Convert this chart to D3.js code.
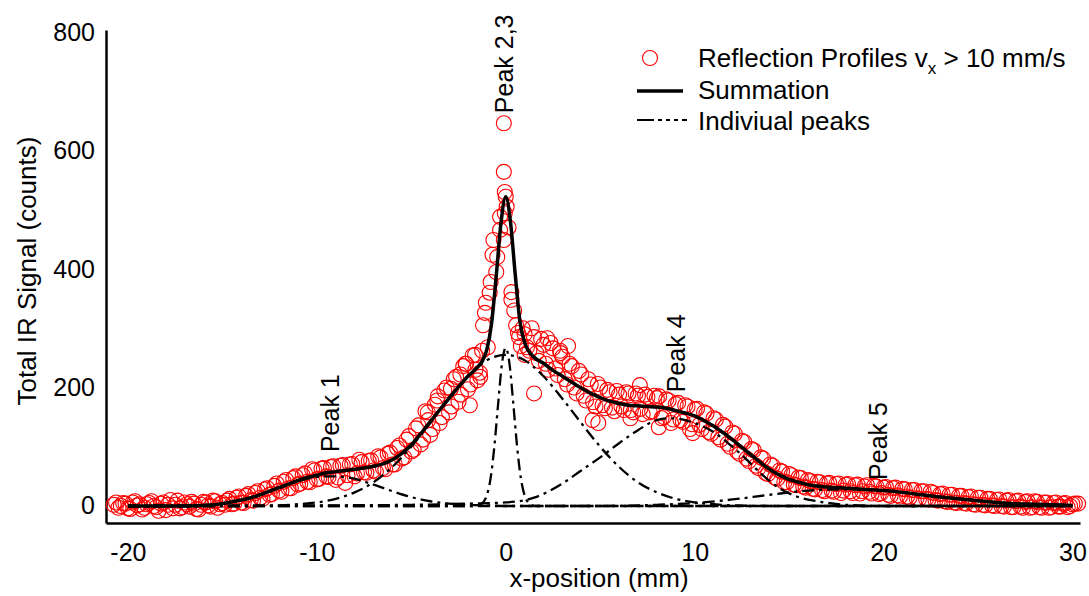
<!DOCTYPE html>
<meta charset="utf-8">
<script src="https://d3js.org/d3.v7.min.js"></script>
<style>
  body { margin: 0; background: #fff; }
  text { font-family: "Liberation Sans", Arial, sans-serif; }
</style>
<div id="my_dataviz"></div>
<script>

// measured reflection profiles (x in mm, signal in counts), two overlapping passes
var profileAX = [
  -20.75,-20.5,-20.25,-20,-19.75,-19.5,-19.25,-19,-18.75,-18.5,-18.25,-18,-17.75,-17.5,-17.25,-17,-16.75,-16.5,-16.25,-16,-15.75,-15.5,-15.25,-15,
  -14.75,-14.5,-14.25,-14,-13.75,-13.5,-13.25,-13,-12.75,-12.5,-12.25,-12,-11.75,-11.5,-11.25,-11,-10.75,-10.5,-10.25,-10,
  -9.75,-9.5,-9.25,-9,-8.75,-8.5,-8.25,-8,-7.75,-7.5,-7.25,-7,-6.75,-6.5,-6.25,-6,-5.75,-5.5,-5.25,-5,
  -4.75,-4.5,-4.25,-4,-3.75,-3.5,-3.25,-3,-2.75,-2.5,-2.25,-2,-1.75,-1.5,-1.25,
  -4.1,-3.6,-2.9,-2.4,-2.1,-1.9,-1.6,-1.35,
  -1.2,-1.1,-1.05,-0.95,-0.8,-0.7,-0.65,-0.5,-0.3,-0.3,-0.1,-0.1,-0.1,-0.05,-0.05,0,0.05,0.3,0.3,0.55,0.65,0.8,0.9,
  1,1.25,1.5,1.75,2,2.25,2.5,2.75,3,3.25,3.5,3.75,4,4.25,4.5,4.75,5,5.25,5.5,5.75,6,6.25,6.5,6.75,7,7.25,7.5,7.75,8,
  1.5,2.2,2.9,3.3,4.6,4.9,6.6,7.1,8.1,9.9,
  8.25,8.5,8.75,9,9.25,9.5,9.75,10,10.25,10.5,10.75,11,11.25,11.5,11.75,12,12.25,12.5,12.75,13,13.25,13.5,13.75,14,14.25,14.5,14.75,15,15.25,15.5,15.75,16,
  16.25,16.5,16.75,17,17.25,17.5,17.75,18,18.25,18.5,18.75,19,19.25,19.5,19.75,20,20.25,20.5,20.75,21,21.25,21.5,21.75,22,22.25,22.5,22.75,23,
  23.25,23.5,23.75,24,24.25,24.5,24.75,25,25.25,25.5,25.75,26,26.25,26.5,26.75,27,27.25,27.5,27.75,28,28.25,28.5,28.75,29,29.25,29.5,29.75,30,30.3
];
var profileAY = [
  2,-3,5,-4,6,1,-6,3,8,-2,4,-7,10,2,-4,6,-1,4,-6,7,1,9,-3,5,
  9,3,14,6,17,10,22,14,28,19,34,26,41,30,47,36,52,41,62,45,
  63,50,66,44,68,39,70,50,78,57,76,60,84,64,88,70,98,80,112,92,
  131,104,160,120,171,140,195,158,214,176,236,197,254,212,262,
  145,185,198,222,240,170,230,218,
  305,326,343,268,378,424,449,395,466,488,449,564,646,494,530,522,505,361,348,305,292,270,300,
  290,262,285,245,272,230,266,221,252,205,236,190,222,178,205,168,200,165,192,160,188,162,190,158,186,155,184,160,182,
  190,283,258,270,145,140,148,204,133,123,
  148,180,140,172,145,170,130,163,137,158,125,148,116,137,105,124,92,110,80,96,68,82,56,70,48,60,40,54,36,48,33,44,
  29,41,27,38,26,37,22,36,25,35,21,33,24,34,20,31,19,30,18,29,16,27,13,25,12,24,10,20,
  8,19,6,17,5,15,3,14,2,12,1,10,0,9,-2,8,-1,7,-3,8,-2,6,-3,5,-1,4,-2,3,4
];
var profileBX = [
  -20.625,-20.375,-20.125,-19.875,-19.625,-19.375,-19.125,-18.875,-18.625,-18.375,-18.125,-17.875,-17.625,-17.375,-17.125,-16.875,-16.625,-16.375,-16.125,-15.875,-15.625,-15.375,-15.125,
  -14.875,-14.625,-14.375,-14.125,-13.875,-13.625,-13.375,-13.125,-12.875,-12.625,-12.375,-12.125,-11.875,-11.625,-11.375,-11.125,-10.875,-10.625,-10.375,-10.125,
  -9.875,-9.625,-9.375,-9.125,-8.875,-8.625,-8.375,-8.125,-7.875,-7.625,-7.375,-7.125,-6.875,-6.625,-6.375,-6.125,-5.875,-5.625,-5.375,-5.125,
  -4.875,-4.625,-4.375,-4.125,-3.875,-3.625,-3.375,-3.125,-2.875,-2.625,-2.375,-2.125,-1.875,-1.625,-1.375,
  -0.85,-0.45,0.15,0.45,0.7,1.0,
  1.125,1.375,1.625,1.875,2.125,2.375,2.625,2.875,3.125,3.375,3.625,3.875,4.125,4.375,4.625,4.875,5.125,5.375,5.625,5.875,6.125,6.375,6.625,6.875,7.125,7.375,7.625,7.875,
  8.125,8.375,8.625,8.875,9.125,9.375,9.625,9.875,10.125,10.375,10.625,10.875,11.125,11.375,11.625,11.875,12.125,12.375,12.625,12.875,13.125,13.375,13.625,13.875,14.125,14.375,14.625,14.875,15.125,15.375,15.625,15.875,
  16.125,16.375,16.625,16.875,17.125,17.375,17.625,17.875,18.125,18.375,18.625,18.875,19.125,19.375,19.625,19.875,20.125,20.375,20.625,20.875,21.125,21.375,21.625,21.875,22.125,22.375,22.625,22.875,
  23.125,23.375,23.625,23.875,24.125,24.375,24.625,24.875,25.125,25.375,25.625,25.875,26.125,26.375,26.625,26.875,27.125,27.375,27.625,27.875,28.125,28.375,28.625,28.875,29.125,29.375,29.625,29.875,30.125
];
var profileBY = [
  6,0,4,-5,8,3,-3,5,0,-8,6,2,-4,9,-2,3,7,-5,2,6,-1,8,3,
  2,12,4,16,5,20,9,25,12,30,20,38,24,44,30,50,38,55,40,60,
  46,64,49,67,48,69,52,71,55,74,56,77,58,82,62,90,70,102,82,118,
  95,136,112,158,130,178,150,200,168,218,188,240,205,255,225,
  360,420,470,330,285,255,
  268,300,258,282,240,275,232,262,214,240,200,228,186,214,175,206,170,196,166,194,168,192,162,190,164,188,158,186,
  185,150,178,146,174,142,168,138,164,130,156,122,146,112,134,100,122,88,108,76,94,64,80,54,68,46,58,40,52,35,47,31,
  42,28,40,25,39,24,38,26,37,22,36,25,35,21,33,22,32,17,31,16,28,14,27,12,25,11,22,9,
  21,7,19,5,17,4,16,2,14,1,12,0,11,-1,10,-2,9,-3,8,-2,7,-3,6,-2,6,-1,5,0,4
];

// summation of the fitted peaks
var sumX = [-20,-18,-16,-15,-14.5,-14,-13.5,-13,-12.5,-12,-11.5,-11,-10.5,-10,-9.5,-9,-8.5,-8,-7.5,-7,-6.5,-6,-5.5,-5,-4.5,-4,-3.5,-3,-2.5,-2,-1.5,-1.25,-1,-0.75,-0.5,-0.25,0,0.25,0.5,0.75,1,1.5,2,2.5,3,3.5,4,4.5,5,5.5,6,6.5,7,7.5,8,8.5,9,9.5,10,10.5,11,11.5,12,12.5,13,13.5,14,14.5,15,15.5,16,17,18,19,20,21,22,23,24,25,26,27,28,29,30];
var sumY = [0,0,1,4,7,10,14,19,25,31,37,43,48,52,56,58,60,62,64,67,71,78,89,103,122,142,162,182,201,219,234,244,264,308,389,478,522,480,392,312,276,251,241,229,219,209,199,190,183,177,173,170,169,168,167,165,161,157,152,144,135,124,112,99,86,73,61,52,45,40,36,32,30,28,26,23,19,15,12,9,6,4,3,2,1];

// individual peaks
var peak1X = [-20,-18,-16,-15,-14,-13,-12,-11,-10,-9.5,-9,-8,-7,-6,-5,-4,-3,-2,-1,0,10,20,30];
var peak1Y = [0,0,2,4,10,19,30,42,49,50,50,46,36,25,15,8,4,2,1,0,0,0,0];
var peak2X = [-20,-16,-14,-12,-11,-10,-9,-8,-7,-6,-5,-4,-3,-2,-1,0,1,2,3,4,5,6,7,8,9,10,11,12,14,16,20,30];
var peak2Y = [0,0,0,1,3,6,12,23,40,66,100,140,181,219,246,255,246,219,181,140,100,66,40,23,12,6,3,1,0,0,0,0];
var peak3X = [-20,-2,-1.6,-1.3,-1,-0.8,-0.6,-0.4,-0.2,0,0.2,0.4,0.6,0.8,1,1.3,1.6,2,30];
var peak3Y = [0,0,0,3,18,47,101,173,240,267,240,173,101,47,18,3,0,0,0];
var peak4X = [-20,-10,-5,-2,0,1.5,3,4,5,6,7,8,8.7,9.5,10,11,12,12.7,13.5,14.5,15.5,16.5,18,20,25,30];
var peak4Y = [0,1,2,4,6,14,38,60,82,106,128,145,148,145,140,125,100,80,55,30,15,8,2,0,0,0];
var peak5X = [-20,-10,0,5,8,10,12,14,16,18,20,22,24,26,28,30];
var peak5Y = [0,0,0,0,2,5,11,19,26,28,26,19,12,6,2,1];

// peak annotations
var peakLabels = ["Peak 1", "Peak 2,3", "Peak 4", "Peak 5"];
var peakLabelX = [-9.3, -0.1, 9.0, 19.7];
var peakLabelY = [91, 663, 192, 44];

var xTicks = [-20, -10, 0, 10, 20, 30];
var yTicks = [0, 200, 400, 600, 800];

var width = 1089, height = 596;

var svg = d3.select("#my_dataviz")
  .append("svg")
    .attr("width", width)
    .attr("height", height);

var x = d3.scaleLinear().domain([-21.16, 30.4]).range([106, 1080]);
var y = d3.scaleLinear().domain([-28.7, 803.4]).range([523, 30]);

// axes (no tick marks)
var xAxis = svg.append("g")
  .attr("transform", "translate(0," + y(-28.7) + ")")
  .call(d3.axisBottom(x).tickValues(xTicks).tickSize(0).tickPadding(20).tickFormat(d3.format("d")));
var yAxis = svg.append("g")
  .attr("transform", "translate(" + x(-21.16) + ",0)")
  .call(d3.axisLeft(y).tickValues(yTicks).tickSize(0).tickPadding(11));

[xAxis, yAxis].forEach(function(g) {
  g.select(".domain").attr("stroke", "#000").attr("stroke-width", 2.5);
  g.selectAll("text")
    .style("font-family", "'Liberation Sans', Arial, sans-serif")
    .style("font-size", "25px")
    .attr("fill", "#000");
});
xAxis.selectAll("text").text(function(d) { return d < 0 ? "-" + Math.abs(d) : d; });

// data points
function pairs(xs, ys) { return xs.map(function(v, i) { return [v, ys[i]]; }); }
var points = pairs(profileAX, profileAY).concat(pairs(profileBX, profileBY));
svg.append("g")
  .selectAll("circle")
  .data(points)
  .enter()
  .append("circle")
    .attr("cx", function(d) { return x(d[0]); })
    .attr("cy", function(d) { return y(d[1]); })
    .attr("r", 7.5)
    .attr("fill", "none")
    .attr("stroke", "#ff0000")
    .attr("stroke-width", 1.1);

var line = d3.line()
  .x(function(d) { return x(d[0]); })
  .y(function(d) { return y(d[1]); })
  .curve(d3.curveMonotoneX);

var peaks = [[peak1X, peak1Y], [peak2X, peak2Y], [peak3X, peak3Y], [peak4X, peak4Y], [peak5X, peak5Y]];
svg.append("g")
  .selectAll("path")
  .data(peaks)
  .enter()
  .append("path")
    .attr("d", function(p) { return line(pairs(p[0], p[1])); })
    .attr("fill", "none")
    .attr("stroke", "#000")
    .attr("stroke-width", 2.3)
    .attr("stroke-dasharray", "12,5,3,5");

svg.append("path")
  .attr("d", line(pairs(sumX, sumY)))
  .attr("fill", "none")
  .attr("stroke", "#000")
  .attr("stroke-width", 3.5)
  .attr("stroke-linejoin", "round");

// axis titles
svg.append("text")
  .attr("x", 599)
  .attr("y", 587)
  .attr("text-anchor", "middle")
  .style("font-size", "26px")
  .text("x-position (mm)");

svg.append("text")
  .attr("transform", "translate(36,271) rotate(-90)")
  .attr("text-anchor", "middle")
  .style("font-size", "26px")
  .text("Total IR Signal (counts)");

// peak labels
svg.append("g")
  .selectAll("text")
  .data(peakLabels)
  .enter()
  .append("text")
    .attr("transform", function(d, i) {
      return "translate(" + x(peakLabelX[i]) + "," + y(peakLabelY[i]) + ") rotate(-90)";
    })
    .attr("dy", "0.36em")
    .style("font-size", "25px")
    .text(function(d) { return d; });

// legend
var legend = svg.append("g");
legend.append("circle")
  .attr("cx", 650).attr("cy", 58).attr("r", 7.5)
  .attr("fill", "none").attr("stroke", "#ff0000").attr("stroke-width", 1.1);
var lt = legend.append("text").attr("x", 698).attr("y", 67).style("font-size", "26px");
lt.append("tspan").text("Reflection Profiles v");
lt.append("tspan").attr("dy", 7).style("font-size", "17px").text("x");
lt.append("tspan").attr("dy", -7).text(" > 10 mm/s");

legend.append("line")
  .attr("x1", 637).attr("x2", 683).attr("y1", 91).attr("y2", 91)
  .attr("stroke", "#000").attr("stroke-width", 3.5);
legend.append("text").attr("x", 698).attr("y", 99).style("font-size", "26px").text("Summation");

legend.append("line")
  .attr("x1", 637).attr("x2", 687).attr("y1", 120).attr("y2", 120)
  .attr("stroke", "#000").attr("stroke-width", 2)
  .attr("stroke-dasharray", "17,4,4,4,4,4,4,4");
legend.append("text").attr("x", 698).attr("y", 130).style("font-size", "26px").text("Indiviual peaks");

</script>
